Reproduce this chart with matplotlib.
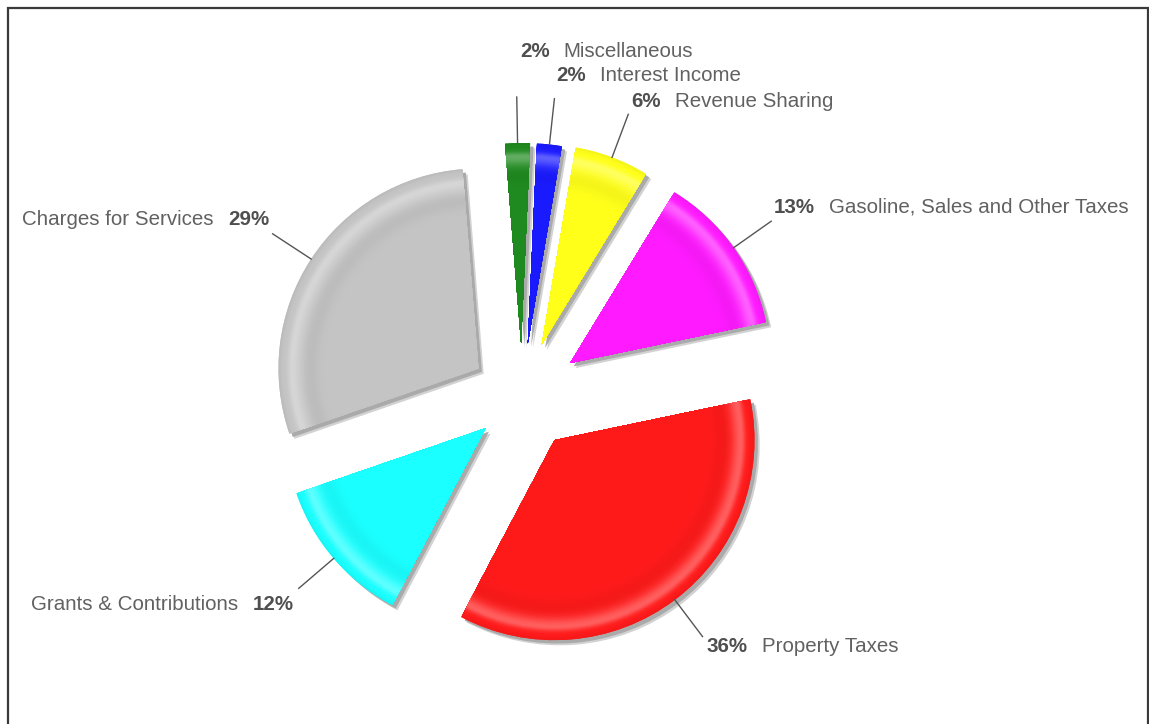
import numpy as np
import matplotlib
matplotlib.use('Agg')
import matplotlib.pyplot as plt
from matplotlib.patches import Wedge, Rectangle
import matplotlib.colors as mcolors

# ---------------- data ----------------
categories = ['Miscellaneous', 'Interest Income', 'Revenue Sharing',
              'Gasoline, Sales and Other Taxes', 'Property Taxes',
              'Grants & Contributions', 'Charges for Services']
values = [2, 2, 6, 13, 36, 12, 29]
pct_labels = ['2%', '2%', '6%', '13%', '36%', '12%', '29%']

# ---------------- style / layout ----------------
colors = ['#1f8a1f', '#1a1aff', '#ffff1a', '#ff1aff', '#ff1a1a', '#1affff', '#c4c4c4']
explode = [0.27, 0.27, 0.28, 0.295, 0.27, 0.24, 0.26]
label_side = ['right', 'right', 'right', 'right', 'right', 'left', 'left']
label_offset = [(3, 46), (2, 23), (3, 13), (3, 14), (4, -10), (-5, -16), (-3, 14)]

W, H, DPI = 1149, 724, 100
R_PX = 200.0
CX, CY = 522, 397          # pie centre in pixels (from top-left)
START = 94.6

plt.rcParams['font.family'] = ['Liberation Sans', 'DejaVu Sans']
FS = 14.8

fig = plt.figure(figsize=(W / DPI, H / DPI), dpi=DPI)
fig.patch.set_facecolor('white')
ax = fig.add_axes([0, 0, 1, 1])

# soft shadow pie (two layers)
ax.pie(values, explode=explode, startangle=START, counterclock=False,
       colors=['#d2d2d2'] * len(values), center=(0.026, -0.026), radius=1,
       wedgeprops=dict(linewidth=0))
ax.pie(values, explode=explode, startangle=START, counterclock=False,
       colors=['#aaaaaa'] * len(values), center=(0.017, -0.017), radius=1,
       wedgeprops=dict(linewidth=0))
# main pie
wedges, _ = ax.pie(values, explode=explode, startangle=START, counterclock=False,
                   colors=colors, radius=1, wedgeprops=dict(linewidth=0))

ax.set_xlim(-CX / R_PX, (W - CX) / R_PX)
ax.set_ylim(-(H - CY) / R_PX, CY / R_PX)
ax.set_aspect('auto')
ax.axis('off')


def shade(base, r):
    """bevel profile along the radius"""
    sig = 0.022 if r > 0.935 else 0.045
    hi = 0.30 * np.exp(-((r - 0.935) / sig) ** 2)
    lo = 0.04 * np.exp(-((r - 0.84) / 0.04) ** 2) + 0.04 * np.exp(-((r - 1.0) / 0.012) ** 2)
    c = np.array(mcolors.to_rgb(base))
    c = c + (1 - c) * hi
    c = c * (1 - lo)
    return np.clip(c, 0, 1)


# bevel highlight rings (opaque sectors drawn outer -> inner)
for w, col in zip(wedges, colors):
    for rr in np.arange(1.0, 0.74, -0.004):
        ax.add_patch(Wedge(w.center, rr, w.theta1, w.theta2,
                           facecolor=shade(col, rr), edgecolor='none', linewidth=0))
    ax.add_patch(Wedge(w.center, 0.74, w.theta1, w.theta2,
                       facecolor=col, edgecolor='none', linewidth=0))

# leader lines and labels
for w, name, pct, side, off in zip(wedges, categories, pct_labels, label_side, label_offset):
    ang = np.deg2rad((w.theta1 + w.theta2) / 2)
    cx, cy = w.center
    p0 = (cx + np.cos(ang), cy + np.sin(ang))
    p1 = (cx + 1.23 * np.cos(ang), cy + 1.23 * np.sin(ang))
    ax.plot([p0[0], p1[0]], [p0[1], p1[1]], color='#555555', lw=1.0)
    if side == 'right':
        t = ax.annotate(pct, xy=p1, xytext=off, textcoords='offset pixels',
                        ha='left', va='center', fontsize=FS, fontweight='bold',
                        color='#4f4f4f')
        ax.annotate(name, xy=(1, 0.5), xycoords=t, xytext=(14, 0),
                    textcoords='offset pixels', ha='left', va='center',
                    fontsize=FS, color='#616161')
    else:
        t = ax.annotate(pct, xy=p1, xytext=off, textcoords='offset pixels',
                        ha='right', va='center', fontsize=FS, fontweight='bold',
                        color='#4f4f4f')
        ax.annotate(name, xy=(0, 0.5), xycoords=t, xytext=(-15, 0),
                    textcoords='offset pixels', ha='right', va='center',
                    fontsize=FS, color='#616161')

# outer frame
fig.patches.append(Rectangle((7.5 / W, -0.02), (1147.5 - 7.5) / W, 1.02 - 7.5 / H,
                             transform=fig.transFigure, fill=False,
                             edgecolor='#3a3a3a', linewidth=1.6))

fig.savefig('out.png', dpi=DPI, facecolor='white')
